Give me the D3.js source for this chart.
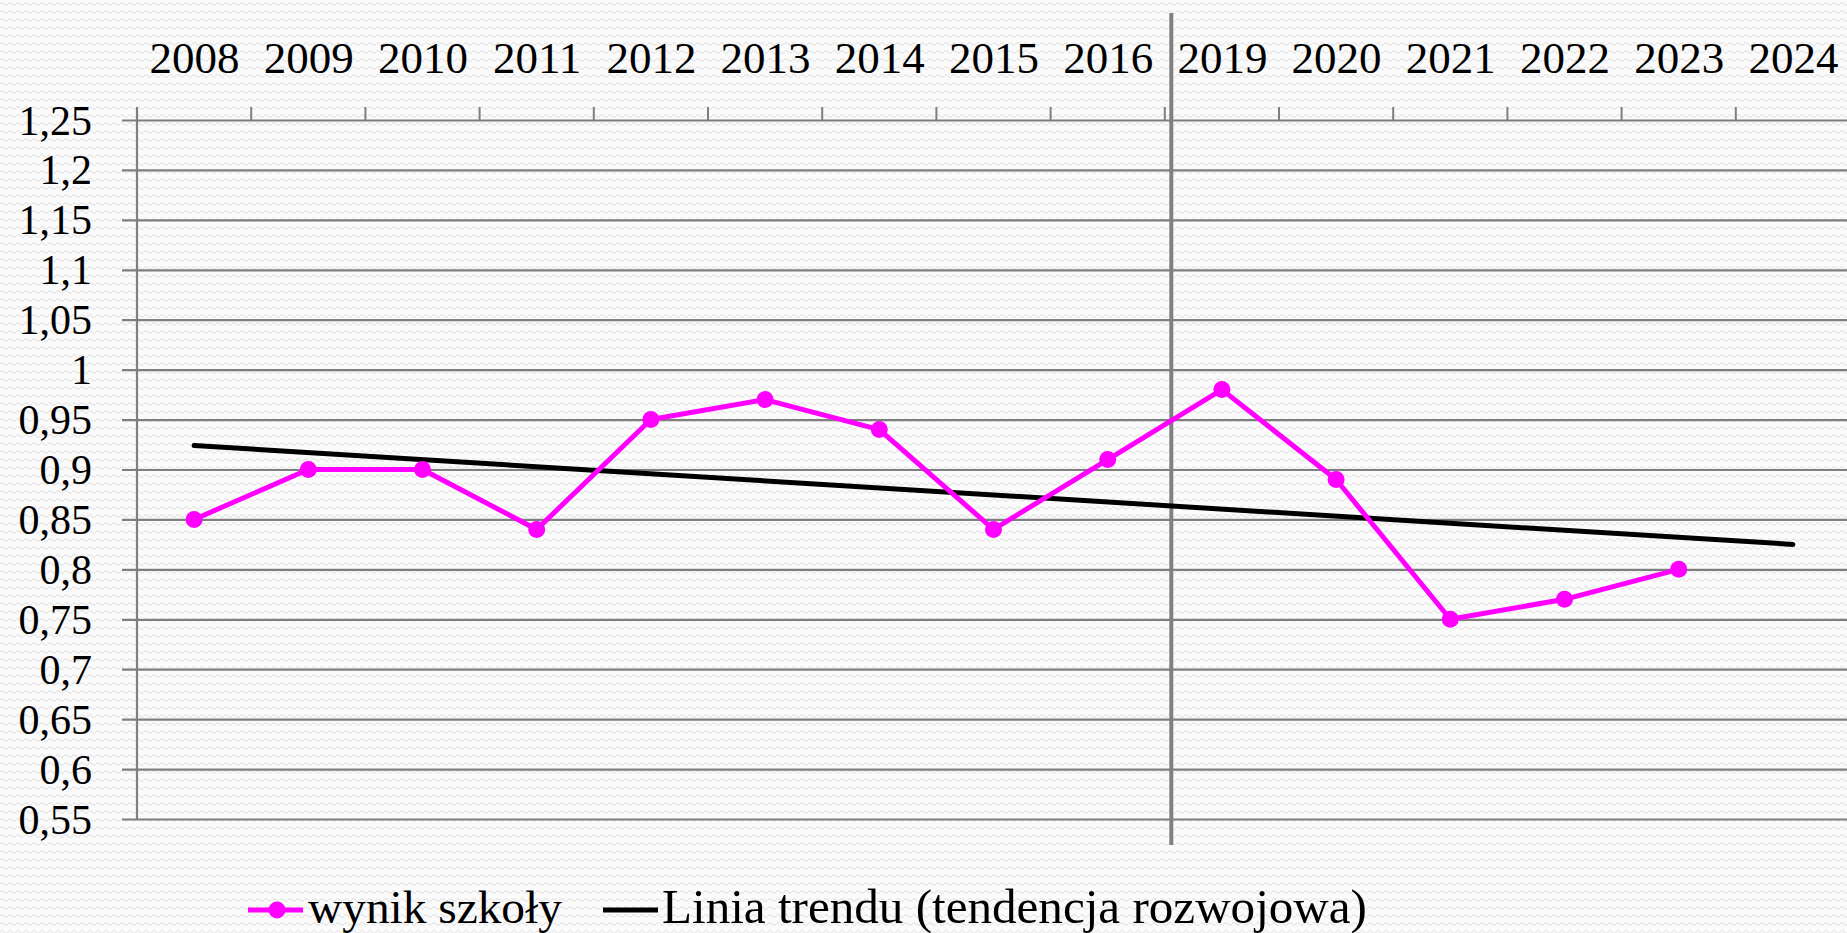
<!DOCTYPE html>
<html><head><meta charset="utf-8">
<script src="https://cdn.jsdelivr.net/npm/d3@7"></script>
<style>html,body{margin:0;padding:0;background:#fff;overflow:hidden}
svg text{font-family:'Liberation Serif','Times New Roman',serif !important;}</style>
</head><body>
<svg id="chart" width="1847" height="933"></svg>
<script>
// ---- data ----
const years = ["2008","2009","2010","2011","2012","2013","2014","2015","2016","2019","2020","2021","2022","2023","2024"];
const schoolValues = [0.85,0.90,0.90,0.84,0.95,0.97,0.94,0.84,0.91,0.98,0.89,0.75,0.77,0.80,null];
const trendYears = ["2008","2024"];
const trendValues = [0.924,0.825];
const yTicks = [0.55,0.6,0.65,0.7,0.75,0.8,0.85,0.9,0.95,1,1.05,1.1,1.15,1.2,1.25];
const yTickLabels = ["0,55","0,6","0,65","0,7","0,75","0,8","0,85","0,9","0,95","1","1,05","1,1","1,15","1,2","1,25"];
const seriesNames = ["wynik szkoły","Linia trendu (tendencja rozwojowa)"];

// ---- layout ----
const W = 1847, H = 933;
const plotLeft = 137, plotTop = 120, plotBottom = 819, band = 114.2;
const svg = d3.select("#chart");
const font = "'Liberation Serif', 'Times New Roman', serif";

// background texture
const defs = svg.append("defs");
const pat = defs.append("pattern").attr("id","bgp").attr("patternUnits","userSpaceOnUse")
  .attr("width",8).attr("height",8);
pat.append("rect").attr("width",8).attr("height",8).attr("fill","#fbfbfb");
pat.append("path").attr("d","M0,4 Q2,1.5 4,4 T8,4").attr("fill","none").attr("stroke","#e9e9e9").attr("stroke-width",1.3);
svg.append("rect").attr("width",W).attr("height",H).attr("fill","url(#bgp)");

const x = d3.scaleBand().domain(years).range([plotLeft, plotLeft + band*years.length]).padding(0);
const y = d3.scaleLinear().domain([0.55,1.25]).range([plotBottom, plotTop]);
const cx = d => x(d) + x.bandwidth()/2;

// horizontal gridlines + y labels
const gy = svg.append("g").attr("transform",`translate(122,0)`)
  .call(d3.axisLeft(y).tickValues(yTicks).tickSize(-(W-122)).tickPadding(30)
        .tickFormat((d,i)=>yTickLabels[i]));
gy.attr("font-family",font);
gy.select(".domain").remove();
gy.selectAll(".tick line").attr("stroke","#7f7f7f").attr("stroke-width",2.2);
gy.selectAll(".tick text").style("font-family",font).attr("font-size",42).attr("fill","#000")
  .attr("dy",null).attr("y",14);

// left axis line
svg.append("line").attr("x1",plotLeft).attr("x2",plotLeft).attr("y1",107).attr("y2",plotBottom)
  .attr("stroke","#7f7f7f").attr("stroke-width",2.2);

// top category ticks at band boundaries
const boundaries = years.map(d => x(d)).concat([x.range()[1]]);
svg.append("g").selectAll("line").data(boundaries).join("line")
  .attr("x1",d=>d).attr("x2",d=>d).attr("y1",107).attr("y2",plotTop)
  .attr("stroke","#7f7f7f").attr("stroke-width",2);

// x labels on top
const gx = svg.append("g").attr("transform",`translate(0,${plotTop})`)
  .call(d3.axisTop(d3.scalePoint().domain(years).range([cx(years[0]), cx(years[years.length-1])]))
        .tickSize(0).tickPadding(47));
gx.attr("font-family",font);
gx.select(".domain").remove();
gx.selectAll(".tick text").style("font-family",font).attr("font-size",45).attr("fill","#000");

// vertical divider between 2016 and 2019
svg.append("line").attr("x1",x("2019")+6.5).attr("x2",x("2019")+6.5).attr("y1",13).attr("y2",845)
  .attr("stroke","#808080").attr("stroke-width",4);

// trend line
const trendPts = trendYears.map((d,i)=>[cx(d), y(trendValues[i])]);
svg.append("path").attr("d", d3.line()(trendPts)).attr("fill","none")
  .attr("stroke","#000").attr("stroke-width",5).attr("stroke-linecap","round");

// school series
const pts = years.map((d,i)=>({year:d, v:schoolValues[i]})).filter(p=>p.v!=null);
svg.append("path").datum(pts)
  .attr("d", d3.line().x(p=>cx(p.year)).y(p=>y(p.v)))
  .attr("fill","none").attr("stroke","#ff00ff").attr("stroke-width",5).attr("stroke-linejoin","round");
svg.append("g").selectAll("circle").data(pts).join("circle")
  .attr("cx",p=>cx(p.year)).attr("cy",p=>y(p.v)).attr("r",8.5).attr("fill","#ff00ff");

// legend
const lg = svg.append("g");
lg.append("line").attr("x1",248).attr("x2",303).attr("y1",910).attr("y2",910)
  .attr("stroke","#ff00ff").attr("stroke-width",5);
lg.append("circle").attr("cx",277).attr("cy",910).attr("r",8.5).attr("fill","#ff00ff");
lg.append("line").attr("x1",603).attr("x2",658).attr("y1",910).attr("y2",910)
  .attr("stroke","#000").attr("stroke-width",5);
const legendSpecs = [{x:308, w:254},{x:662, w:705}];
legendSpecs.forEach((s,i)=>{
  const t = lg.append("text").attr("x",s.x).attr("y",923).style("font-family",font)
    .attr("font-size",48).attr("fill","#000").text(seriesNames[i]);
  const len = t.node().getComputedTextLength();
  t.attr("font-size", 48*s.w/len);
});
</script>
</body></html>
